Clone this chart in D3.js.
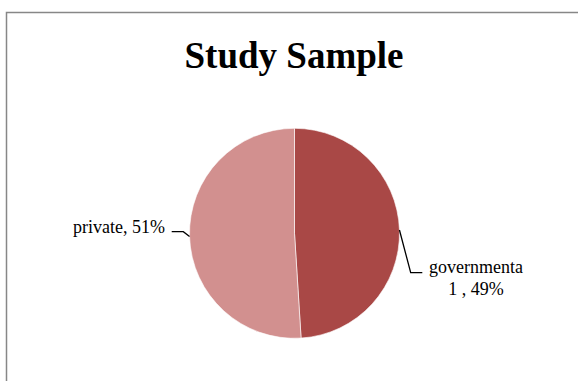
<!DOCTYPE html>
<html>
<head>
<meta charset="utf-8">
<script src="https://cdn.jsdelivr.net/npm/d3@7"></script>
<style>
html,body{margin:0;padding:0;background:#fff;}
svg{display:block;}
</style>
</head>
<body>
<svg id="chart" width="578" height="381"></svg>
<script>
const title = "Study Sample";
const categories = ["governmental", "private"];
const values = [49, 51];
const labelLines = [["governmenta", "1 , 49%"], ["private, 51%"]];
const colors = ["#A94846", "#D2908F"];

const W = 578, H = 381;
const svg = d3.select("#chart");

// chart border (only top/left visible, cropped)
svg.append("rect")
  .attr("x", 6.5).attr("y", 12.5)
  .attr("width", 700).attr("height", 500)
  .attr("fill", "none")
  .attr("stroke", "#878787")
  .attr("stroke-width", 1.5);

svg.append("text")
  .attr("x", 294).attr("y", 68)
  .attr("text-anchor", "middle")
  .attr("font-family", "'Liberation Serif', 'Times New Roman', serif")
  .attr("font-weight", "bold")
  .attr("font-size", 37)
  .attr("fill", "#000")
  .text(title);

const cx = 294.5, cy = 233.3, r = 105;
const data = categories.map((c, i) => ({ cat: c, value: values[i], color: colors[i], lines: labelLines[i] }));
const pie = d3.pie().sort(null).value(d => d.value).startAngle(0).endAngle(2 * Math.PI);
const arcs = pie(data);
const arc = d3.arc().innerRadius(0).outerRadius(r);

const g = svg.append("g").attr("transform", `translate(${cx},${cy})`);
g.selectAll("path.slice").data(arcs).enter().append("path")
  .attr("class", "slice")
  .attr("d", arc)
  .attr("fill", d => d.data.color)
  .attr("stroke", "#ffffff")
  .attr("stroke-width", 0.6);

// leader lines & labels
const leaders = [
  { elbow: [410.7, 272.7], end: [422.3, 272.7], tx: 476, ty: 273.3, anchor: "middle" },
  { elbow: [183.3, 231.7], end: [171.7, 231.7], tx: 165, ty: 232.5, anchor: "end" }
];

arcs.forEach((a, i) => {
  const mid = (a.startAngle + a.endAngle) / 2;
  const px = cx + r * Math.sin(mid);
  const py = cy - r * Math.cos(mid);
  const L = leaders[i];
  svg.append("path")
    .attr("d", d3.line()([[px, py], L.elbow, L.end]))
    .attr("fill", "none")
    .attr("stroke", "#000")
    .attr("stroke-width", 1.3);
  const t = svg.append("text")
    .attr("x", L.tx).attr("y", L.ty)
    .attr("text-anchor", L.anchor)
    .attr("font-family", "'Liberation Serif', 'Times New Roman', serif")
    .attr("font-size", 18)
    .attr("fill", "#000");
  a.data.lines.forEach((ln, j) => {
    t.append("tspan").attr("x", L.tx).attr("y", L.ty + j * 21.7).text(ln);
  });
});
</script>
</body>
</html>
